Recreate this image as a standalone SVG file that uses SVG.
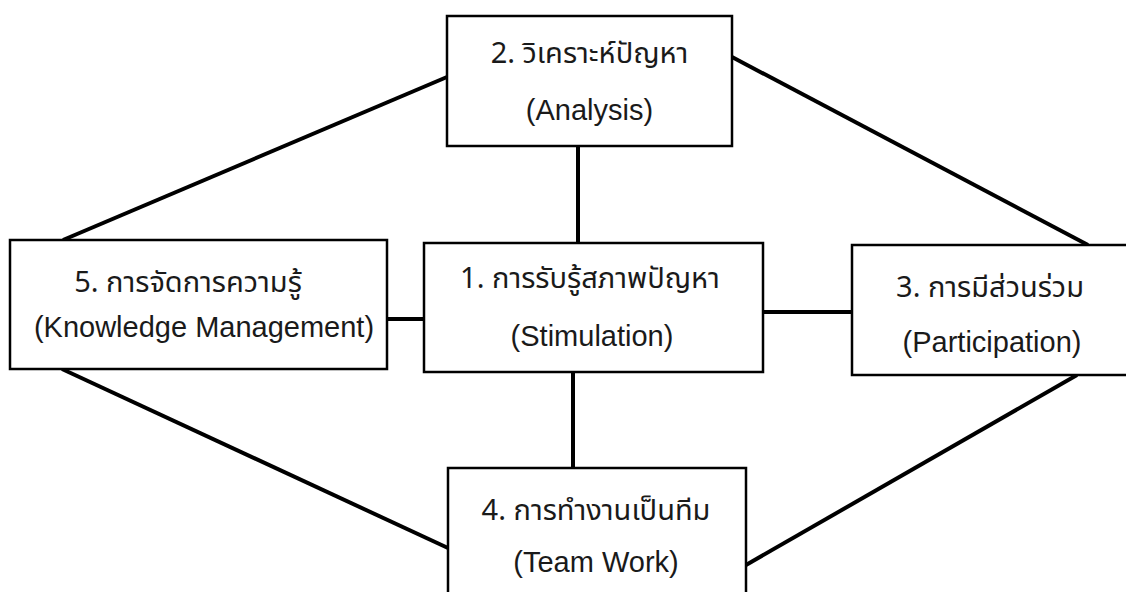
<svg xmlns="http://www.w3.org/2000/svg" width="1126" height="592" viewBox="0 0 1126 592">
  <style>
    .box { fill: #ffffff; stroke: #000000; stroke-width: 2.5; }
    .conn { stroke: #000000; stroke-width: 4; fill: none; }
    .th { font-family: "Noto Sans Thai", "Noto Sans", "Liberation Sans", sans-serif; font-size: 29px; fill: #1a1a1a; text-anchor: middle; }
    .en { font-family: "Liberation Sans", "Noto Sans", sans-serif; font-size: 29px; fill: #1a1a1a; text-anchor: middle; }
  </style>
  <rect width="1126" height="592" fill="#ffffff"/>
  <g id="connectors">
    <line class="conn" x1="447" y1="77" x2="63" y2="240"/>
    <line class="conn" x1="732" y1="57" x2="1088" y2="245"/>
    <line class="conn" x1="62" y1="369" x2="448" y2="548"/>
    <line class="conn" x1="1077" y1="375" x2="746" y2="565"/>
    <line class="conn" x1="578" y1="146" x2="578" y2="243"/>
    <line class="conn" x1="573" y1="372" x2="573" y2="468"/>
    <line class="conn" x1="387" y1="319" x2="424" y2="319"/>
    <line class="conn" x1="763" y1="312" x2="852" y2="312"/>
  </g>
  <g id="node2">
    <rect class="box" x="447" y="16" width="285" height="130"/>
    <text class="th" x="589.5" y="63">2. วิเคราะห์ปัญหา</text>
    <text class="en" x="589.5" y="120">(Analysis)</text>
  </g>
  <g id="node5">
    <rect class="box" x="10" y="240" width="377" height="129"/>
    <text class="th" x="188" y="292">5. การจัดการความรู้</text>
    <text class="en" x="204" y="337">(Knowledge Management)</text>
  </g>
  <g id="node1">
    <rect class="box" x="424" y="243" width="339" height="129"/>
    <text class="th" x="590" y="288">1. การรับรู้สภาพปัญหา</text>
    <text class="en" x="592" y="346">(Stimulation)</text>
  </g>
  <g id="node3">
    <rect class="box" x="852" y="245" width="280" height="130"/>
    <text class="th" x="990" y="297">3. การมีส่วนร่วม</text>
    <text class="en" x="992" y="352">(Participation)</text>
  </g>
  <g id="node4">
    <rect class="box" x="448" y="468" width="298" height="130"/>
    <text class="th" x="596" y="520">4. การทำงานเป็นทีม</text>
    <text class="en" x="596" y="572">(Team Work)</text>
  </g>
</svg>
